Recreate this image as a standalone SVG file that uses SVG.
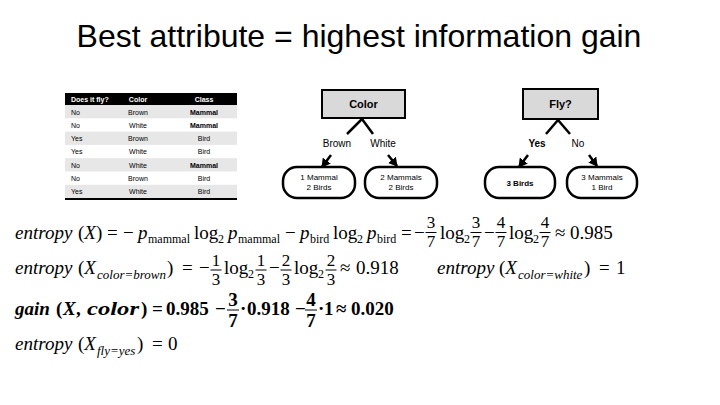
<svg xmlns="http://www.w3.org/2000/svg" width="720" height="405" viewBox="0 0 720 405">
<style>
.sans{font-family:"Liberation Sans",Arial,sans-serif}
.title{font-size:32px;text-anchor:middle}
.th{font-size:7px;font-weight:bold;fill:#fff}
.td{font-size:7px;fill:#000}
.c{text-anchor:middle}
.b{font-weight:bold}
.box{fill:#d9d9d9;stroke:#000;stroke-width:2}
.leaf{fill:#fff;stroke:#000;stroke-width:2.5}
.nl{font-size:11px;font-weight:bold;text-anchor:middle}
.ll{font-size:8px;text-anchor:middle}
.el{font-size:10px;text-anchor:middle}
.edge{stroke:#000;stroke-width:2.5;fill:none}
.m{font-family:"Liberation Serif","Times New Roman",serif;font-size:19px}
.mb{font-family:"Liberation Serif","Times New Roman",serif;font-size:19px;font-weight:bold}
.i{font-style:italic}
.s{font-size:12px}
.si{font-size:13px;font-style:italic}
.f{font-size:17px;text-anchor:middle}
.fb{font-size:19px;text-anchor:middle}
.bar{stroke:#000;stroke-width:1}
</style>
<defs>
<marker id="ah" markerWidth="10" markerHeight="10" refX="8" refY="5" orient="auto" markerUnits="userSpaceOnUse">
<path d="M0,0 L9,5 L0,10 Z" fill="#000"/>
</marker>
</defs>
<rect width="720" height="405" fill="#fff"/>
<text class="sans title" x="359" y="47">Best attribute = highest information gain</text>

<g id="table" class="sans">
<rect x="65" y="93" width="172" height="12" fill="#000"/>
<rect x="65" y="105" width="172" height="13.3" fill="#e7e7e7"/>
<rect x="65" y="131.6" width="172" height="13.3" fill="#e7e7e7"/>
<rect x="65" y="158.2" width="172" height="13.3" fill="#e7e7e7"/>
<rect x="65" y="184.8" width="172" height="13.3" fill="#e7e7e7"/>
<rect x="65" y="198" width="172" height="2" fill="#000"/>
<text class="th" x="71" y="101.5">Does it fly?</text>
<text class="th c" x="138" y="101.5">Color</text>
<text class="th c" x="204" y="101.5">Class</text>
<text class="td" x="71" y="114.5">No</text><text class="td c" x="138" y="114.5">Brown</text><text class="td c b" x="204" y="114.5">Mammal</text>
<text class="td" x="71" y="127.8">No</text><text class="td c" x="138" y="127.8">White</text><text class="td c b" x="204" y="127.8">Mammal</text>
<text class="td" x="71" y="141.1">Yes</text><text class="td c" x="138" y="141.1">Brown</text><text class="td c" x="204" y="141.1">Bird</text>
<text class="td" x="71" y="154.4">Yes</text><text class="td c" x="138" y="154.4">White</text><text class="td c" x="204" y="154.4">Bird</text>
<text class="td" x="71" y="167.7">No</text><text class="td c" x="138" y="167.7">White</text><text class="td c b" x="204" y="167.7">Mammal</text>
<text class="td" x="71" y="181">No</text><text class="td c" x="138" y="181">Brown</text><text class="td c" x="204" y="181">Bird</text>
<text class="td" x="71" y="194.3">Yes</text><text class="td c" x="138" y="194.3">White</text><text class="td c" x="204" y="194.3">Bird</text>
</g>

<g id="node-color" class="sans">
<rect class="box" x="322" y="90" width="83" height="28"/>
<text class="nl" x="363.5" y="108">Color</text>
</g>
<g id="node-brown" class="sans">
<rect class="leaf" x="283" y="167" width="72" height="31" rx="14"/>
<text class="ll" x="319" y="180">1 Mammal</text>
<text class="ll" x="319" y="190">2 Birds</text>
</g>
<g id="node-white" class="sans">
<rect class="leaf" x="365" y="167" width="72" height="31" rx="14"/>
<text class="ll" x="401" y="180">2 Mammals</text>
<text class="ll" x="401" y="190">2 Birds</text>
</g>
<g id="node-fly" class="sans">
<rect class="box" x="523" y="89" width="75" height="30"/>
<text class="nl" x="560.5" y="108">Fly?</text>
</g>
<g id="node-yes" class="sans">
<rect class="leaf" x="485" y="167" width="70" height="31" rx="14"/>
<text class="ll b" x="520" y="185.5">3 Birds</text>
</g>
<g id="node-no" class="sans">
<rect class="leaf" x="567" y="167" width="70" height="31" rx="14"/>
<text class="ll" x="602" y="180">3 Mammals</text>
<text class="ll" x="602" y="190">1 Bird</text>
</g>

<g id="connectors" class="sans">
<line class="edge" x1="362" y1="119" x2="347" y2="134"/>
<line class="edge" x1="362" y1="119" x2="373" y2="134"/>
<line class="edge" x1="331" y1="155" x2="322" y2="167" marker-end="url(#ah)"/>
<line class="edge" x1="388" y1="155" x2="397" y2="166" marker-end="url(#ah)"/>
<text class="el" x="337" y="147">Brown</text>
<text class="el" x="383" y="147">White</text>
<line class="edge" x1="558" y1="120" x2="546" y2="134"/>
<line class="edge" x1="558" y1="120" x2="570" y2="134"/>
<line class="edge" x1="528" y1="155" x2="519" y2="167" marker-end="url(#ah)"/>
<line class="edge" x1="589" y1="155" x2="597" y2="166" marker-end="url(#ah)"/>
<text class="el b" x="537" y="147">Yes</text>
<text class="el" x="578" y="147">No</text>
</g>

<g id="formulas">
<text class="m" y="239"><tspan x="15" class="i">entropy</tspan><tspan x="78">(<tspan class="i">X</tspan>)</tspan><tspan x="107">=</tspan><tspan x="123">−</tspan><tspan x="138" class="i">p</tspan><tspan x="148" y="243" class="s">mammal</tspan><tspan x="194" y="239">log</tspan><tspan x="218" y="243" class="s">2</tspan><tspan x="228" y="239" class="i">p</tspan><tspan x="238" y="243" class="s">mammal</tspan><tspan x="285" y="239">−</tspan><tspan x="300" class="i">p</tspan><tspan x="310" y="243" class="s">bird</tspan><tspan x="333" y="239">log</tspan><tspan x="357" y="243" class="s">2</tspan><tspan x="367" y="239" class="i">p</tspan><tspan x="377" y="243" class="s">bird</tspan><tspan x="401" y="239">=</tspan><tspan x="414">−</tspan><tspan x="440">log</tspan><tspan x="464" y="243" class="s">2</tspan><tspan x="484" y="239">−</tspan><tspan x="509">log</tspan><tspan x="533" y="243" class="s">2</tspan><tspan x="555" y="239">≈</tspan><tspan x="570">0.985</tspan></text>
<g class="m">
<text class="f" x="431" y="228">3</text><text class="f" x="431" y="247">7</text>
<text class="f" x="476" y="228">3</text><text class="f" x="476" y="247">7</text>
<text class="f" x="501" y="228">4</text><text class="f" x="501" y="247">7</text>
<text class="f" x="545" y="228">4</text><text class="f" x="545" y="247">7</text>
</g>
<line class="bar" x1="425.5" y1="232.5" x2="436.5" y2="232.5"/>
<line class="bar" x1="470.5" y1="232.5" x2="481.5" y2="232.5"/>
<line class="bar" x1="495.5" y1="232.5" x2="506.5" y2="232.5"/>
<line class="bar" x1="539.5" y1="232.5" x2="550.5" y2="232.5"/>

<text class="m" y="274"><tspan x="15" class="i">entropy</tspan><tspan x="78">(<tspan class="i">X</tspan></tspan><tspan x="97" y="279" class="si">color=brown</tspan><tspan x="167" y="274">)</tspan><tspan x="182">=</tspan><tspan x="199">−</tspan><tspan x="224">log</tspan><tspan x="248" y="278" class="s">2</tspan><tspan x="269" y="274">−</tspan><tspan x="294">log</tspan><tspan x="318" y="278" class="s">2</tspan><tspan x="340" y="274">≈</tspan><tspan x="356">0.918</tspan></text>
<g class="m">
<text class="f" x="216" y="266">1</text><text class="f" x="216" y="285">3</text>
<text class="f" x="261" y="266">1</text><text class="f" x="261" y="285">3</text>
<text class="f" x="286" y="266">2</text><text class="f" x="286" y="285">3</text>
<text class="f" x="331" y="266">2</text><text class="f" x="331" y="285">3</text>
</g>
<line class="bar" x1="210.5" y1="270" x2="221.5" y2="270"/>
<line class="bar" x1="255.5" y1="270" x2="266.5" y2="270"/>
<line class="bar" x1="280.5" y1="270" x2="291.5" y2="270"/>
<line class="bar" x1="325.5" y1="270" x2="336.5" y2="270"/>

<text class="m" y="274"><tspan x="437" class="i">entropy</tspan><tspan x="499">(<tspan class="i">X</tspan></tspan><tspan x="518" y="279" class="si">color=white</tspan><tspan x="584" y="274">)</tspan><tspan x="599">=</tspan><tspan x="616">1</tspan></text>

<text class="mb" y="315"><tspan x="15" class="i">gain</tspan><tspan x="56">(</tspan><tspan x="63" class="i">X</tspan><tspan x="76">,</tspan><tspan x="87" class="i" textLength="52" lengthAdjust="spacingAndGlyphs">color</tspan><tspan x="141">)</tspan><tspan x="152">=</tspan><tspan x="166">0.985</tspan><tspan x="215">−</tspan><tspan x="240">·</tspan><tspan x="247">0.918</tspan><tspan x="295">−</tspan><tspan x="318">·</tspan><tspan x="324">1</tspan><tspan x="336">≈</tspan><tspan x="351">0.020</tspan></text>
<g class="mb">
<text class="fb" x="233" y="306">3</text><text class="fb" x="233" y="327">7</text>
<text class="fb" x="311" y="306">4</text><text class="fb" x="311" y="327">7</text>
</g>
<line class="bar" x1="227" y1="310" x2="239" y2="310" stroke-width="1.5"/>
<line class="bar" x1="305" y1="310" x2="317" y2="310" stroke-width="1.5"/>

<text class="m" y="350"><tspan x="15" class="i">entropy</tspan><tspan x="78">(<tspan class="i">X</tspan></tspan><tspan x="97" y="355" class="si">fly=yes</tspan><tspan x="137" y="350">)</tspan><tspan x="152">=</tspan><tspan x="168">0</tspan></text>
</g>
</svg>
